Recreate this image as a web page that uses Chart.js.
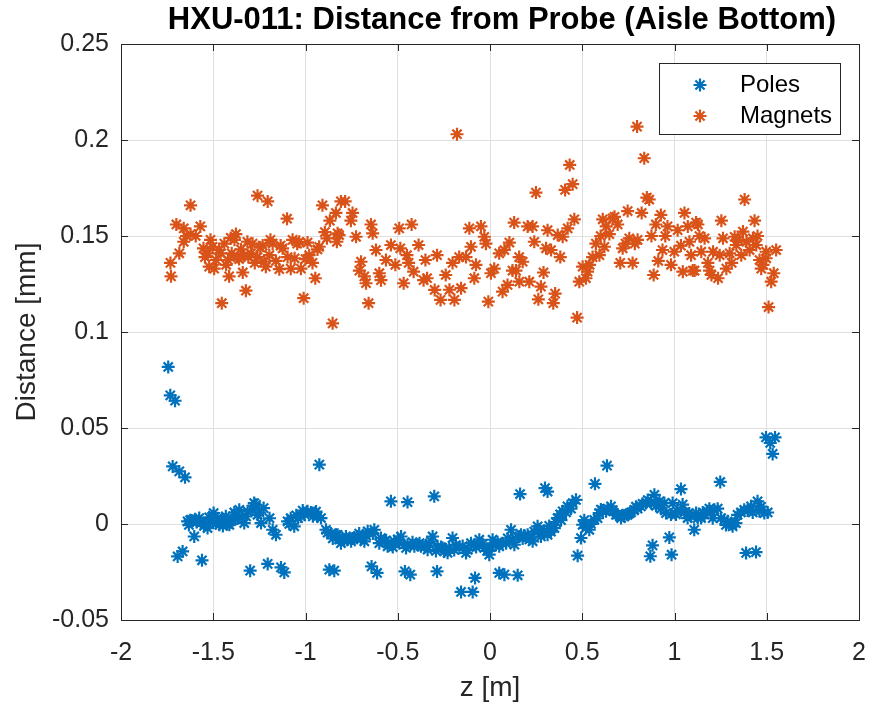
<!DOCTYPE html>
<html>
<head>
<meta charset="utf-8">
<title>HXU-011: Distance from Probe (Aisle Bottom)</title>
<script src="https://cdn.jsdelivr.net/npm/chart.js@4.4.1/dist/chart.umd.min.js"></script>
<style>
  html, body { margin: 0; padding: 0; background: #fff; }
  canvas { display: block; }
</style>
</head>
<body>
<canvas id="probeChart" width="872" height="711"></canvas>
<script>
// HXU-011 probe distance, poles vs magnets

const poleZ = [
  -1.744, -1.733, -1.720, -1.707, -1.693, -1.684, -1.666, -1.653, -1.639, -1.625,
  -1.612, -1.603, -1.590, -1.576, -1.561, -1.550, -1.531, -1.515, -1.498, -1.485,
  -1.467, -1.455, -1.440, -1.425, -1.413, -1.395, -1.377, -1.359, -1.345, -1.332,
  -1.314, -1.300, -1.278, -1.260, -1.241, -1.227, -1.205, -1.195, -1.178, -1.160,
  -1.133, -1.115, -1.097, -1.080, -1.061, -1.040, -1.024, -1.005, -0.989, -0.970,
  -0.952, -0.935, -0.925, -0.916, -0.889, -0.871, -0.862, -0.844, -0.835, -0.826,
  -0.808, -0.790, -0.772, -0.753, -0.735, -0.718, -0.700, -0.681, -0.663, -0.642,
  -0.627, -0.612, -0.591, -0.572, -0.555, -0.537, -0.519, -0.500, -0.482, -0.461,
  -0.447, -0.447, -0.432, -0.410, -0.390, -0.374, -0.355, -0.338, -0.311, -0.302,
  -0.287, -0.284, -0.265, -0.248, -0.221, -0.203, -0.185, -0.166, -0.157, -0.130,
  -0.103, -0.094, -0.081, -0.075, -0.058, -0.031, -0.015, -0.004, 0.014, 0.032,
  0.050, 0.050, 0.068, 0.078, 0.087, 0.114, 0.132, 0.150, 0.159, 0.163,
  0.168, 0.186, 0.204, 0.231, 0.258, 0.276, 0.298, 0.312, 0.312, 0.330,
  0.349, 0.366, 0.380, 0.394, 0.420, 0.448, 0.466, 0.475, 0.493, 0.502,
  0.520, 0.538, 0.565, 0.569, 0.592, 0.610, 0.629, 0.634, 0.656, 0.683,
  0.710, 0.728, 0.746, 0.764, 0.782, 0.800, 0.818, 0.846, 0.869, 0.881,
  0.891, 0.918, 0.954, 0.972, 0.984, 0.990, 1.017, 1.035, 1.044, 1.071,
  1.090, 1.107, 1.117, 1.144, 1.162, 1.179, 1.216, 1.248, 1.252, 1.270,
  1.288, 1.315, 1.342, 1.360, 1.378, 1.388, 1.415, 1.442, 1.450, 1.460,
  1.487, 1.496, 1.519, 1.532, 1.545,
  // thick band
  -1.632, -1.598, -1.568, -1.540, -1.522, -1.476, -1.448, -1.432, -1.404, -1.386,
  -1.368, -1.322, -1.288, -1.268, -1.250, -1.088, -1.050, -1.015, -0.960, -0.943,
  -0.880, -0.852, -0.817, -0.781, -0.745, -0.709, -0.672, -0.635, -0.600, -0.563,
  -0.527, -0.491, -0.455, -0.420, -0.382, -0.347, -0.320, -0.293, -0.257, -0.230,
  -0.194, -0.148, -0.121, -0.085, -0.040, 0.005, 0.041, 0.096, 0.123, 0.177,
  0.213, 0.240, 0.267, 0.294, 0.321, 0.357, 0.385, 0.412, 0.439, 0.511,
  0.547, 0.583, 0.601, 0.638, 0.665, 0.692, 0.719, 0.755, 0.791, 0.827,
  0.855, 0.873, 0.900, 0.927, 0.945, 0.981, 1.008, 1.053, 1.080, 1.126,
  1.153, 1.189, 1.207, 1.234, 1.279, 1.306, 1.333, 1.396, 1.424, 1.469,
  1.505
];
const poleDist = [
  0.0818, 0.0670, 0.0300, 0.0642, -0.0169, 0.0274, -0.0143, 0.0243, 0.0014, 0.0020,
  0.0017, -0.0065, 0.0010, 0.0031, -0.0189, -0.0010, -0.0021, 0.0010, 0.0057, 0.0005,
  -0.0004, 0.0020, 0.0022, 0.0000, -0.0004, 0.0020, 0.0048, 0.0074, 0.0030, 0.0005,
  0.0066, -0.0243, 0.0109, 0.0048, 0.0005, 0.0083, -0.0208, 0.0030, -0.0030, -0.0056,
  -0.0226, -0.0252, 0.0014, 0.0030, -0.0012, 0.0030, 0.0040, 0.0050, 0.0066, 0.0060,
  0.0057, 0.0040, 0.0309, 0.0031, -0.0030, -0.0238, -0.0050, -0.0243, -0.0056, -0.0056,
  -0.0100, -0.0082, -0.0080, -0.0090, -0.0070, -0.0065, -0.0080, -0.0090, -0.0038, -0.0221,
  -0.0030, -0.0255, -0.0073, -0.0090, -0.0116, 0.0118, -0.0090, -0.0080, -0.0065, -0.0247,
  0.0114, -0.0108, -0.0264, -0.0116, -0.0110, -0.0116, -0.0120, -0.0134, -0.0065, 0.0144,
  -0.0247, -0.0116, -0.0120, -0.0143, -0.0125, -0.0073, -0.0110, -0.0125, -0.0354, -0.0151,
  -0.0100, -0.0354, -0.0281, -0.0120, -0.0082, -0.0125, -0.0140, -0.0160, -0.0082, -0.0110,
  -0.0116, -0.0255, -0.0100, -0.0264, -0.0100, -0.0030, -0.0108, -0.0267, -0.0065, 0.0156,
  -0.0056, -0.0060, -0.0056, -0.0090, -0.0012, -0.0065, 0.0187, 0.0169, -0.0056, -0.0040,
  -0.0021, 0.0031, 0.0050, 0.0066, 0.0092, 0.0109, 0.0126, -0.0165, -0.0073, -0.0004,
  -0.0020, -0.0030, 0.0022, 0.0209, 0.0057, 0.0070, 0.0066, 0.0304, 0.0092, 0.0048,
  0.0031, 0.0040, 0.0048, 0.0060, 0.0074, 0.0080, 0.0092, 0.0109, -0.0168, -0.0111,
  0.0152, 0.0118, 0.0057, -0.0070, -0.0160, 0.0109, 0.0066, 0.0182, 0.0101, 0.0031,
  0.0040, -0.0030, 0.0057, 0.0031, 0.0050, 0.0066, 0.0074, 0.0219, 0.0031, 0.0020,
  0.0014, -0.0012, 0.0048, 0.0060, 0.0074, -0.0151, 0.0092, -0.0146, 0.0118, 0.0066,
  0.0057, 0.0451, 0.0422, 0.0365, 0.0451,
  // thick band
  -0.0005, 0.0025, 0.0005, 0.0000, 0.0035, 0.0030, -0.0010, 0.0040, 0.0015, 0.0060,
  0.0030, 0.0040, 0.0075, 0.0100, 0.0060, 0.0000, 0.0045, 0.0070, 0.0040, 0.0065,
  -0.0045, -0.0075, -0.0080, -0.0065, -0.0075, -0.0050, -0.0060, -0.0050, -0.0100, -0.0085,
  -0.0120, -0.0100, -0.0125, -0.0095, -0.0100, -0.0110, -0.0090, -0.0140, -0.0125, -0.0150,
  -0.0135, -0.0115, -0.0135, -0.0110, -0.0105, -0.0120, -0.0095, -0.0075, -0.0080, -0.0075,
  -0.0080, -0.0040, -0.0030, -0.0035, -0.0010, 0.0010, 0.0020, 0.0060, 0.0080, 0.0020,
  0.0000, 0.0030, 0.0075, 0.0080, 0.0070, 0.0050, 0.0045, 0.0055, 0.0090, 0.0105,
  0.0125, 0.0110, 0.0095, 0.0080, 0.0110, 0.0050, 0.0050, 0.0060, 0.0055, 0.0030,
  0.0060, 0.0080, 0.0030, 0.0080, -0.0005, 0.0000, 0.0005, 0.0070, 0.0060, 0.0090,
  0.0060
];

const magnetZ = [
  -1.732, -1.729, -1.700, -1.684, -1.660, -1.660, -1.645, -1.623, -1.623, -1.595,
  -1.570, -1.553, -1.530, -1.522, -1.504, -1.485, -1.468, -1.454, -1.440, -1.420,
  -1.414, -1.400, -1.385, -1.377, -1.368, -1.350, -1.332, -1.323, -1.310, -1.296,
  -1.287, -1.260, -1.260, -1.232, -1.223, -1.205, -1.196, -1.178, -1.142, -1.124,
  -1.100, -1.097, -1.070, -1.059, -1.034, -1.025, -1.010, -0.989, -0.980, -0.962,
  -0.947, -0.926, -0.908, -0.884, -0.868, -0.853, -0.835, -0.830, -0.826, -0.818,
  -0.808, -0.785, -0.754, -0.745, -0.726, -0.708, -0.699, -0.681, -0.672, -0.658,
  -0.645, -0.636, -0.618, -0.600, -0.591, -0.564, -0.537, -0.513, -0.492, -0.486,
  -0.468, -0.450, -0.441, -0.425, -0.414, -0.387, -0.360, -0.350, -0.341, -0.300,
  -0.287, -0.268, -0.240, -0.220, -0.203, -0.193, -0.179, -0.167, -0.157, -0.130,
  -0.112, -0.103, -0.085, -0.076, -0.049, -0.031, -0.022, -0.009, 0.005, 0.023,
  0.050, 0.068, 0.078, 0.095, 0.105, 0.122, 0.131, 0.141, 0.158, 0.159,
  0.177, 0.204, 0.213, 0.231, 0.240, 0.249, 0.262, 0.276, 0.290, 0.304,
  0.312, 0.331, 0.343, 0.353, 0.367, 0.381, 0.394, 0.407, 0.421, 0.432,
  0.448, 0.457, 0.472, 0.484, 0.502, 0.520, 0.529, 0.556, 0.574, 0.593,
  0.611, 0.620, 0.647, 0.665, 0.692, 0.706, 0.719, 0.746, 0.755, 0.773,
  0.797, 0.800, 0.822, 0.836, 0.863, 0.887, 0.899, 0.912, 0.926, 0.935,
  0.962, 0.981, 0.999, 1.017, 1.045, 1.054, 1.072, 1.081, 1.099, 1.109,
  1.117, 1.127, 1.145, 1.163, 1.181, 1.200, 1.209, 1.236, 1.254, 1.263,
  1.281, 1.299, 1.326, 1.335, 1.362, 1.371, 1.380, 1.407, 1.425, 1.434,
  1.443, 1.461, 1.470, 1.497, 1.497, 1.510, 1.524, 1.538, 1.551,
  // thick band
  -1.545, -1.515, -1.495, -1.460, -1.430, -1.405, -1.360, -1.340, -1.315, -1.275,
  -1.245, -1.215, -1.190, -1.160, -1.135, -1.080, -1.045, -1.000, -0.935, -0.895,
  0.540, 0.600, 0.630, 0.675, 0.735, 0.785, 0.850, 0.875, 0.950, 1.035,
  1.090, 1.135, 1.190, 1.245, 1.310, 1.345, 1.390, 1.450, 1.480
];
const magnetDist = [
  0.1360, 0.1290, 0.1560, 0.1410, 0.1540, 0.1470, 0.1500, 0.1660, 0.1510, 0.1500,
  0.1550, 0.1436, 0.1410, 0.1340, 0.1444, 0.1375, 0.1427, 0.1150, 0.1460, 0.1375,
  0.1290, 0.1410, 0.1480, 0.1510, 0.1390, 0.1430, 0.1400, 0.1215, 0.1390, 0.1410,
  0.1460, 0.1710, 0.1390, 0.1450, 0.1366, 0.1680, 0.1400, 0.1460, 0.1327, 0.1436,
  0.1590, 0.1390, 0.1480, 0.1384, 0.1470, 0.1330, 0.1176, 0.1466, 0.1400, 0.1360,
  0.1280, 0.1444, 0.1660, 0.1488, 0.1580, 0.1045, 0.1620, 0.1470, 0.1514, 0.1505,
  0.1680, 0.1680, 0.1580, 0.1620, 0.1496, 0.1320, 0.1366, 0.1290, 0.1254, 0.1150,
  0.1560, 0.1514, 0.1427, 0.1306, 0.1270, 0.1375, 0.1453, 0.1350, 0.1540, 0.1436,
  0.1254, 0.1400, 0.1360, 0.1560, 0.1314, 0.1453, 0.1270, 0.1375, 0.1280, 0.1219,
  0.1400, 0.1167, 0.1297, 0.1220, 0.1360, 0.1167, 0.2030, 0.1390, 0.1228, 0.1390,
  0.1540, 0.1444, 0.1280, 0.1350, 0.1550, 0.1496, 0.1460, 0.1158, 0.1306, 0.1330,
  0.1410, 0.1210, 0.1427, 0.1245, 0.1466, 0.1320, 0.1570, 0.1320, 0.1390, 0.1262,
  0.1366, 0.1550, 0.1262, 0.1550, 0.1470, 0.1726, 0.1170, 0.1236, 0.1310, 0.1436,
  0.1530, 0.1427, 0.1150, 0.1200, 0.1505, 0.1390, 0.1496, 0.1740, 0.1540, 0.1870,
  0.1770, 0.1587, 0.1075, 0.1262, 0.1340, 0.1280, 0.1314, 0.1390, 0.1460, 0.1400,
  0.1587, 0.1444, 0.1510, 0.1592, 0.1560, 0.1360, 0.1436, 0.1630, 0.1488, 0.1360,
  0.2070, 0.1480, 0.1620, 0.1905, 0.1690, 0.1297, 0.1560, 0.1370, 0.1610, 0.1427,
  0.1550, 0.1350, 0.1418, 0.1530, 0.1314, 0.1620, 0.1550, 0.1470, 0.1320, 0.1320,
  0.1570, 0.1560, 0.1418, 0.1488, 0.1360, 0.1297, 0.1418, 0.1280, 0.1580, 0.1488,
  0.1330, 0.1410, 0.1496, 0.1453, 0.1400, 0.1523, 0.1690, 0.1427, 0.1488, 0.1580,
  0.1453, 0.1375, 0.1330, 0.1418, 0.1384, 0.1130, 0.1262, 0.1306, 0.1427,
  // thick band
  0.1390, 0.1480, 0.1330, 0.1410, 0.1350, 0.1490, 0.1380, 0.1310, 0.1470, 0.1360,
  0.1440, 0.1340, 0.1480, 0.1370, 0.1450, 0.1330, 0.1460, 0.1380, 0.1430, 0.1520,
  0.1350, 0.1500, 0.1550, 0.1600, 0.1460, 0.1460, 0.1700, 0.1500, 0.1500, 0.1450,
  0.1400, 0.1500, 0.1320, 0.1400, 0.1360, 0.1480, 0.1470, 0.1500, 0.1350
];

const xTickStep = 0.5;
const yTickStep = 0.05;

const FONT = '"Liberation Sans", Arial, Helvetica, sans-serif';
const AXIS_COLOR = "#262626";
const POLE_COLOR = "#0072BD";
const MAGNET_COLOR = "#D95319";

function toPoints(xs, ys) {
  return xs.map((x, i) => ({ x: x, y: ys[i] }));
}

// matlab style box, inward ticks, title and legend
const matlabFrame = {
  id: "matlabFrame",
  afterDraw(chart) {
    const ctx = chart.ctx;
    const a = chart.chartArea;
    const sx = chart.scales.x;
    const sy = chart.scales.y;
    const tick = 7;

    ctx.save();
    ctx.strokeStyle = AXIS_COLOR;
    ctx.lineWidth = 1;
    ctx.beginPath();
    sx.ticks.forEach(t => {
      const px = Math.round(sx.getPixelForValue(t.value)) + 0.5;
      ctx.moveTo(px, a.bottom); ctx.lineTo(px, a.bottom - tick);
      ctx.moveTo(px, a.top); ctx.lineTo(px, a.top + tick);
    });
    sy.ticks.forEach(t => {
      const py = Math.round(sy.getPixelForValue(t.value)) + 0.5;
      ctx.moveTo(a.left, py); ctx.lineTo(a.left + tick, py);
      ctx.moveTo(a.right, py); ctx.lineTo(a.right - tick, py);
    });
    ctx.stroke();
    ctx.strokeRect(Math.round(a.left) + 0.5, Math.round(a.top) + 0.5,
      Math.round(a.width), Math.round(a.height));

    // title over the axes
    ctx.fillStyle = "#000";
    ctx.font = "bold 31px " + FONT;
    ctx.textAlign = "center";
    ctx.textBaseline = "middle";
    ctx.fillText("HXU-011: Distance from Probe (Aisle Bottom)", 502, 20);

    // legend, top right inside the axes
    const lx = 659.5, ly = 63.5, lw = 181, lh = 71;
    ctx.fillStyle = "#fff";
    ctx.fillRect(lx, ly, lw, lh);
    ctx.strokeStyle = AXIS_COLOR;
    ctx.strokeRect(lx, ly, lw, lh);
    const rows = [["Poles", POLE_COLOR, 85], ["Magnets", MAGNET_COLOR, 116]];
    ctx.font = "24px " + FONT;
    ctx.textAlign = "left";
    rows.forEach(r => {
      ctx.strokeStyle = r[1];
      ctx.lineWidth = 2.2;
      Chart.helpers.drawPoint(ctx, { pointStyle: "star", radius: 6.5, borderWidth: 2.2 }, 700, r[2]);
      ctx.fillStyle = "#000";
      ctx.fillText(r[0], 740, r[2]);
    });
    ctx.restore();
  }
};

const canvas = document.getElementById("probeChart");

new Chart(canvas, {
  type: "scatter",
  data: {
    datasets: [
      {
        label: "Poles",
        data: toPoints(poleZ, poleDist),
        borderColor: POLE_COLOR,
        backgroundColor: POLE_COLOR,
        pointStyle: "star",
        pointRadius: 6.5,
        pointBorderWidth: 2.2
      },
      {
        label: "Magnets",
        data: toPoints(magnetZ, magnetDist),
        borderColor: MAGNET_COLOR,
        backgroundColor: MAGNET_COLOR,
        pointStyle: "star",
        pointRadius: 6.5,
        pointBorderWidth: 2.2
      }
    ]
  },
  options: {
    responsive: false,
    animation: false,
    devicePixelRatio: 1,
    layout: { padding: { top: 44, right: 0, left: 0, bottom: 0 } },
    plugins: {
      legend: { display: false },
      tooltip: { enabled: false },
      title: { display: false }
    },
    scales: {
      x: {
        type: "linear",
        min: -2,
        max: 2,
        ticks: {
          stepSize: xTickStep,
          padding: 18,
          color: AXIS_COLOR,
          font: { family: FONT, size: 25 },
          callback: v => String(+v.toFixed(2))
        },
        grid: { color: "#dfdfdf", drawTicks: false },
        border: { display: false },
        title: {
          display: true,
          text: "z [m]",
          color: AXIS_COLOR,
          font: { family: FONT, size: 28 },
          padding: { top: 0, bottom: 6 }
        },
        afterFit: s => {
          s.height = 91;
          s.paddingLeft = 0;
          s.paddingRight = 13;
        }
      },
      y: {
        type: "linear",
        min: -0.05,
        max: 0.25,
        ticks: {
          stepSize: yTickStep,
          padding: 12,
          color: AXIS_COLOR,
          font: { family: FONT, size: 25 },
          callback: v => Math.abs(v) < 1e-9 ? "0" : String(+v.toFixed(2))
        },
        grid: { color: "#dfdfdf", drawTicks: false },
        border: { display: false },
        title: {
          display: true,
          text: "Distance [mm]",
          color: AXIS_COLOR,
          font: { family: FONT, size: 28 },
          padding: { top: 10, bottom: 0 }
        },
        afterFit: s => { s.width = 121; }
      }
    }
  },
  plugins: [matlabFrame]
});
</script>
</body>
</html>
